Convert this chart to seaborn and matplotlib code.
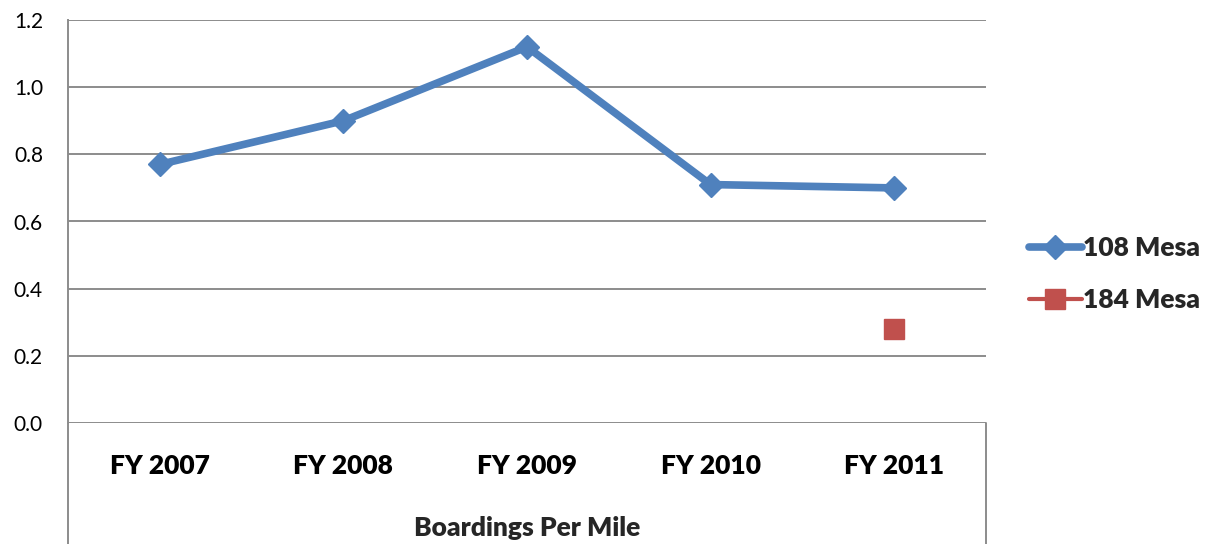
import pandas as pd
import seaborn as sns
import matplotlib.pyplot as plt

# chart values
years = ["FY 2007", "FY 2008", "FY 2009", "FY 2010", "FY 2011"]
mesa_108 = [0.77, 0.90, 1.12, 0.71, 0.70]
mesa_184_years = ["FY 2011"]
mesa_184 = [0.28]
y_ticks = [0.0, 0.2, 0.4, 0.6, 0.8, 1.0, 1.2]

sns.set_theme(style="white")
plt.rcParams["font.family"] = ["Lato", "DejaVu Sans"]

df_108 = pd.DataFrame({"year": years, "value": mesa_108})
df_184 = pd.DataFrame({"year": mesa_184_years, "value": mesa_184})

fig = plt.figure(figsize=(12.25, 5.44), dpi=100)
ax = fig.add_axes([68 / 1225, 121 / 544, 918 / 1225, 403 / 544])

sns.lineplot(data=df_108, x="year", y="value", ax=ax, color="#4F81BD",
             linewidth=5.5, marker="D", markersize=12, markeredgewidth=1,
             markeredgecolor="#4F81BD", label="108 Mesa", sort=False)
sns.lineplot(data=df_184, x="year", y="value", ax=ax, color="#C0504D",
             linewidth=3, marker="s", markersize=14, markeredgewidth=1,
             markeredgecolor="#C0504D", label="184 Mesa", sort=False)

ax.set_xlim(-0.5, 4.5)
ax.set_ylim(0, 1.2)
ax.set_yticks(y_ticks)
ax.set_yticklabels([f"{t:.1f}" for t in y_ticks], fontsize=15)
ax.yaxis.grid(True, color="#8c8c8c", linewidth=1.4)
ax.set_axisbelow(True)

for side in ["top", "right", "bottom"]:
    ax.spines[side].set_visible(False)
ax.spines["left"].set_color("#8c8c8c")
ax.spines["left"].set_linewidth(1.4)

# category box below the plot area
ext = -121 / 403
ax.plot([0, 0], [0, ext], transform=ax.transAxes, clip_on=False,
        color="#8c8c8c", lw=1.4)
ax.plot([1, 1], [0, ext], transform=ax.transAxes, clip_on=False,
        color="#8c8c8c", lw=1.4)

ax.tick_params(axis="y", length=0, pad=18, labelcolor="black")
ax.tick_params(axis="x", length=0, pad=22, labelsize=19, labelcolor="black")
for lbl in ax.get_xticklabels():
    lbl.set_fontweight("heavy")

ax.set_xlabel("Boardings Per Mile", fontsize=19, fontweight="heavy", labelpad=28)
ax.set_ylabel("")

leg = ax.legend(loc="center left", bbox_to_anchor=(1.021, 0.37), frameon=False,
                fontsize=19, handlelength=2.0, handletextpad=0.05,
                labelspacing=1.05)
for txt in leg.get_texts():
    txt.set_fontweight("heavy")

fig.savefig("out.png", dpi=100)
